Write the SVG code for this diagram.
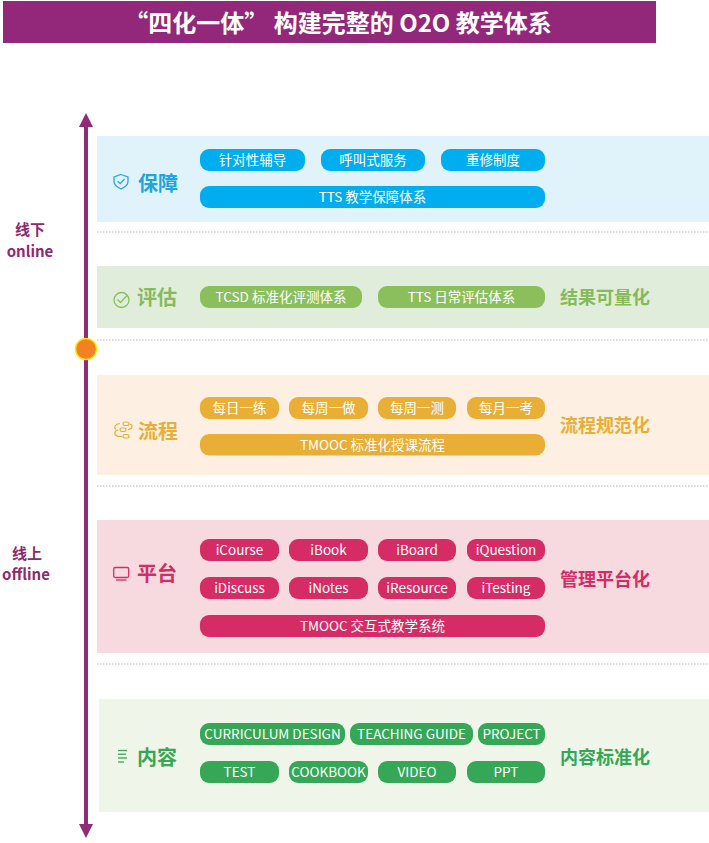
<svg xmlns="http://www.w3.org/2000/svg" width="709" height="843" viewBox="0 0 709 843">
<defs>
<style>
text{font-family:"Noto Sans CJK SC","Noto Sans",sans-serif;}
.title{font-size:24px;font-weight:bold;fill:#fff;}
.side{font-size:15px;font-weight:bold;fill:#8E2A70;text-anchor:middle;}
.pt{font-size:13.5px;fill:#fff;text-anchor:middle;}
.lab{font-size:20px;font-weight:bold;}
.rlab{font-size:18px;font-weight:bold;}
.dot{stroke:#D0D0D0;stroke-width:1.5;stroke-dasharray:1.5 1.5;fill:none;}
.b{fill:#00AEEF;} .g{fill:#8BBF5C;} .o{fill:#E9AE35;} .p{fill:#D52C65;} .c{fill:#35A756;}
</style>
<marker id="ah" viewBox="0 0 14 14" refX="7" refY="7" markerWidth="14" markerHeight="14" markerUnits="userSpaceOnUse" orient="auto-start-reverse">
<path d="M0 0 L14 7 L0 14 Z" fill="#922A78"/>
</marker>
</defs>
<rect width="709" height="843" fill="#fff"/>
<g id="title">
<rect x="3" y="1" width="653" height="42" fill="#93287A"/>
<text class="title" x="338" y="31.5" text-anchor="middle">“四化一体” 构建完整的 O2O 教学体系</text>
</g>
<g id="separators">
<line class="dot" x1="97" y1="232" x2="709" y2="232"/>
<line class="dot" x1="97" y1="340" x2="709" y2="340"/>
<line class="dot" x1="97" y1="486" x2="709" y2="486"/>
<line class="dot" x1="97" y1="664" x2="709" y2="664"/>
</g>
<g id="connectors">
<line x1="86" y1="120" x2="86" y2="831" stroke="#922A78" stroke-width="4" marker-start="url(#ah)" marker-end="url(#ah)"/>
<circle cx="86" cy="349" r="10.5" fill="#F28123" stroke="#FFE600" stroke-width="1.5"/>
</g>
<g id="side-online">
<text class="side" x="30" y="235">线下</text>
<text class="side" x="30" y="257">online</text>
</g>
<g id="side-offline">
<text class="side" x="27" y="559">线上</text>
<text class="side" x="26" y="580">offline</text>
</g>
<g id="node-baozhang">
<rect x="97" y="136" width="612" height="86" fill="#E0F2FA"/>
<path d="M121 174.5 L128 177 V181.5 C128 185 125.5 187 121 189 C116.5 187 114 185 114 181.5 V177 Z" fill="none" stroke="#29A8E0" stroke-width="1.3"/>
<path d="M117.7 181.3 L120.2 183.6 L124.5 179" fill="none" stroke="#29A8E0" stroke-width="1.3"/>
<text class="lab" x="138" y="190.5" fill="#20A4E2">保障</text>
<rect class="b" x="200" y="149" width="105" height="22" rx="9"/>
<text class="pt" x="252.5" y="165">针对性辅导</text>
<rect class="b" x="321" y="149" width="104" height="22" rx="9"/>
<text class="pt" x="373" y="165">呼叫式服务</text>
<rect class="b" x="441" y="149" width="104" height="22" rx="9"/>
<text class="pt" x="493" y="165">重修制度</text>
<rect class="b" x="200" y="186" width="345" height="22" rx="9"/>
<text class="pt" x="372.5" y="202">TTS 教学保障体系</text>
</g>
<g id="node-pinggu">
<rect x="97" y="266" width="612" height="62" fill="#DFEDDA"/>
<circle cx="121.5" cy="300" r="7.5" fill="none" stroke="#8BBF5C" stroke-width="1.3"/>
<path d="M117.5 299.5 L120.5 302.5 L127 295.5" fill="none" stroke="#8BBF5C" stroke-width="1.3"/>
<text class="lab" x="137" y="304.5" fill="#86BA5A">评估</text>
<rect class="g" x="200" y="286" width="162" height="22" rx="9"/>
<text class="pt" x="281" y="302">TCSD 标准化评测体系</text>
<rect class="g" x="378" y="286" width="167" height="22" rx="9"/>
<text class="pt" x="461.5" y="302">TTS 日常评估体系</text>
<text class="rlab" x="560" y="303.5" fill="#86BA5A">结果可量化</text>
</g>
<g id="node-liucheng">
<rect x="97" y="375" width="612" height="100" fill="#FDF0E2"/>
<g fill="none" stroke="#E9AE35" stroke-width="1.2">
<rect x="123" y="422" width="6" height="3.5" rx="1.75"/>
<rect x="120" y="428" width="6" height="3.5" rx="1.75"/>
<rect x="123" y="434.5" width="6" height="3.5" rx="1.75"/>
<path d="M120 423.5 C115 424 113.5 427 116 429.5"/>
<path d="M118 430 C114 431 113.5 435 118 436.3 H122"/>
<path d="M130 424 C133 425 133 429 128 429.7"/>
</g>
<text class="lab" x="138" y="438.5" fill="#E9AE35">流程</text>
<rect class="o" x="200" y="397" width="79" height="22" rx="9"/>
<text class="pt" x="239.5" y="413">每日一练</text>
<rect class="o" x="289" y="397" width="79" height="22" rx="9"/>
<text class="pt" x="328.5" y="413">每周一做</text>
<rect class="o" x="378" y="397" width="78" height="22" rx="9"/>
<text class="pt" x="417" y="413">每周一测</text>
<rect class="o" x="467" y="397" width="78" height="22" rx="9"/>
<text class="pt" x="506" y="413">每月一考</text>
<rect class="o" x="200" y="434" width="345" height="21.5" rx="9"/>
<text class="pt" x="372.5" y="449.5">TMOOC 标准化授课流程</text>
<text class="rlab" x="560" y="431.5" fill="#E9AE35">流程规范化</text>
</g>
<g id="node-pingtai">
<rect x="97" y="520" width="612" height="133" fill="#F6DAE0"/>
<rect x="113.7" y="567.5" width="15" height="10" rx="1.5" fill="none" stroke="#D52C65" stroke-width="1.3"/>
<line x1="116" y1="580" x2="126.5" y2="580" stroke="#D52C65" stroke-width="1.3"/>
<text class="lab" x="137" y="580.5" fill="#D52C65">平台</text>
<rect class="p" x="200" y="539" width="79" height="22" rx="9"/>
<text class="pt" x="239.5" y="555">iCourse</text>
<rect class="p" x="289" y="539" width="79" height="22" rx="9"/>
<text class="pt" x="328.5" y="555">iBook</text>
<rect class="p" x="378" y="539" width="78" height="22" rx="9"/>
<text class="pt" x="417" y="555">iBoard</text>
<rect class="p" x="467" y="539" width="78" height="22" rx="9"/>
<text class="pt" x="506" y="555">iQuestion</text>
<rect class="p" x="200" y="577" width="79" height="22" rx="9"/>
<text class="pt" x="239.5" y="593">iDiscuss</text>
<rect class="p" x="289" y="577" width="79" height="22" rx="9"/>
<text class="pt" x="328.5" y="593">iNotes</text>
<rect class="p" x="378" y="577" width="78" height="22" rx="9"/>
<text class="pt" x="417" y="593">iResource</text>
<rect class="p" x="467" y="577" width="78" height="22" rx="9"/>
<text class="pt" x="506" y="593">iTesting</text>
<rect class="p" x="200" y="615" width="345" height="22" rx="9"/>
<text class="pt" x="372.5" y="631">TMOOC 交互式教学系统</text>
<text class="rlab" x="560" y="585.5" fill="#D52C65">管理平台化</text>
</g>
<g id="node-neirong">
<rect x="99" y="699" width="610" height="113" fill="#EFF5E8"/>
<g stroke="#35A756" stroke-width="1.3">
<line x1="118" y1="750.5" x2="127" y2="750.5"/>
<line x1="118" y1="754.2" x2="126" y2="754.2"/>
<line x1="118" y1="758" x2="127" y2="758"/>
<line x1="118" y1="762" x2="124" y2="762"/>
</g>
<text class="lab" x="137" y="764.5" fill="#35A756">内容</text>
<rect class="c" x="200" y="723" width="145" height="22" rx="9"/>
<text class="pt" x="272.5" y="739">CURRICULUM DESIGN</text>
<rect class="c" x="350" y="723" width="123" height="22" rx="9"/>
<text class="pt" x="411.5" y="739">TEACHING GUIDE</text>
<rect class="c" x="478" y="723" width="67" height="22" rx="9"/>
<text class="pt" x="511.5" y="739">PROJECT</text>
<rect class="c" x="200" y="761" width="79" height="22" rx="9"/>
<text class="pt" x="239.5" y="777">TEST</text>
<rect class="c" x="289" y="761" width="79" height="22" rx="9"/>
<text class="pt" x="328.5" y="777">COOKBOOK</text>
<rect class="c" x="378" y="761" width="78" height="22" rx="9"/>
<text class="pt" x="417" y="777">VIDEO</text>
<rect class="c" x="467" y="761" width="78" height="22" rx="9"/>
<text class="pt" x="506" y="777">PPT</text>
<text class="rlab" x="560" y="763.5" fill="#35A756">内容标准化</text>
</g>
</svg>
